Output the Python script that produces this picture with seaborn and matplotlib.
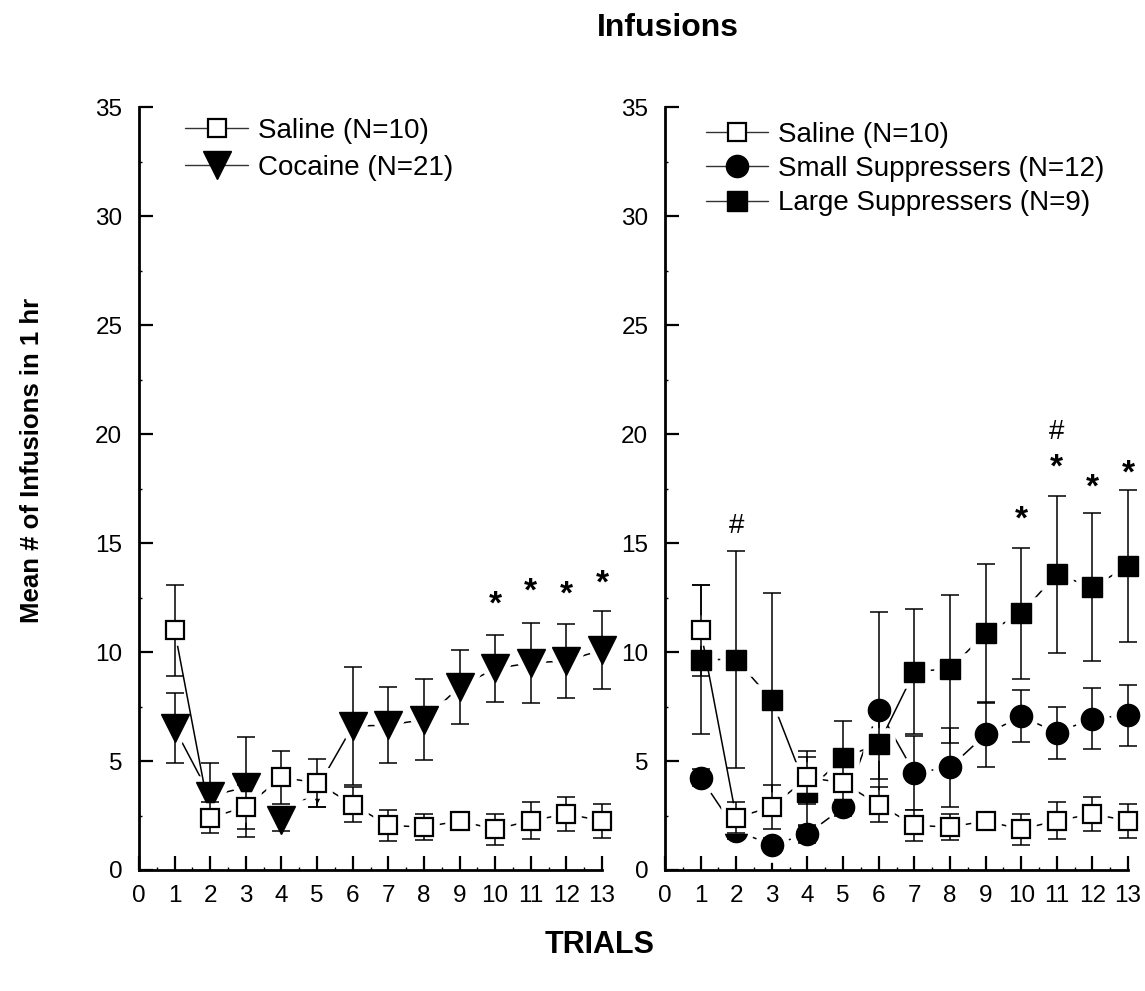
import numpy as np
import pandas as pd
import matplotlib
matplotlib.use("Agg")
import matplotlib.pyplot as plt
from matplotlib.lines import Line2D
from matplotlib.ticker import MultipleLocator
import seaborn as sns

# ---------------- data ----------------
trials = list(range(1, 14))

saline_mean = [11.0, 2.4, 2.9, 4.25, 4.0, 3.0, 2.05, 1.97, 2.25, 1.87, 2.26, 2.57, 2.26]
saline_sem = [2.1, 0.7, 1.0, 1.2, 1.1, 0.8, 0.7, 0.6, 0.4, 0.7, 0.86, 0.8, 0.78]

cocaine_mean = [6.5, 3.4, 3.8, 2.3, 3.75, 6.6, 6.65, 6.9, 8.4, 9.25, 9.5, 9.6, 10.1]
cocaine_sem = [1.6, 1.5, 2.3, 0.5, 0.85, 2.7, 1.75, 1.85, 1.7, 1.55, 1.85, 1.7, 1.8]

small_mean = [4.24, 1.8, 1.15, 1.65, 2.87, 7.36, 4.46, 4.71, 6.22, 7.06, 6.3, 6.95, 7.11]
small_sem = [0.4, 0.4, 0.3, 0.4, 0.4, 4.5, 1.7, 1.8, 1.5, 1.2, 1.2, 1.4, 1.4]

large_mean = [9.66, 9.66, 7.8, 3.6, 5.16, 5.78, 9.1, 9.24, 10.86, 11.78, 13.58, 12.97, 13.96]
large_sem = [3.4, 5.0, 4.9, 1.6, 1.7, 1.6, 2.86, 3.4, 3.18, 3.0, 3.6, 3.4, 3.5]

left_labels = ["Saline (N=10)", "Cocaine (N=21)"]
right_labels = ["Saline (N=10)", "Small Suppressers (N=12)", "Large Suppressers (N=9)"]

# significance marks: (trial, y-centre, symbol)
left_marks = [(10, 12.3, "*"), (11, 12.9, "*"), (12, 12.8, "*"), (13, 13.3, "*")]
right_marks = [(2, 15.8, "#"), (10, 16.2, "*"), (11, 18.6, "*"), (11, 20.1, "#"),
               (12, 17.7, "*"), (13, 18.35, "*")]

x_ticks = list(range(0, 14))
y_ticks = list(range(0, 40, 5))

# ---------------- style ----------------
sns.set_style("ticks")
plt.rcParams["font.family"] = ["Liberation Sans", "DejaVu Sans"]
for key in ("text.color", "axes.labelcolor", "xtick.color", "ytick.color", "axes.edgecolor"):
    plt.rcParams[key] = "black"

fig = plt.figure(figsize=(11.45, 9.91), dpi=100)
ax_l = fig.add_axes([0.1214, 0.1221, 0.4044, 0.7696])
ax_r = fig.add_axes([0.5808, 0.1221, 0.4044, 0.7696])

series_styles = {
    "saline": dict(marker="s", ms=13.5, mfc="white", mec="black", mew=1.6),
    "cocaine": dict(marker="v", ms=19.5, mfc="black", mec="black", mew=1.0),
    "small": dict(marker="o", ms=16, mfc="black", mec="black", mew=1.0),
    "large": dict(marker="s", ms=14.5, mfc="black", mec="black", mew=1.0),
}


def draw_series(ax, mean, sem, style, z):
    df = pd.DataFrame({"trial": trials, "mean": mean})
    # connecting line
    sns.lineplot(data=df, x="trial", y="mean", ax=ax, color="black", lw=1.1,
                 zorder=z, clip_on=False, legend=False)
    # white halo to create gaps around markers
    ax.plot(trials, mean, linestyle="none", marker=style["marker"], ms=style["ms"],
            mfc="white", mec="white", mew=9, zorder=z + 0.1, clip_on=False)
    # error bars
    ax.errorbar(trials, mean, yerr=sem, fmt="none", ecolor="black", elinewidth=1.1,
                capsize=6.5, capthick=1.1, zorder=z + 0.2, clip_on=False)
    # markers
    ax.plot(trials, mean, linestyle="none", zorder=z + 0.3, clip_on=False, **style)


draw_series(ax_l, cocaine_mean, cocaine_sem, series_styles["cocaine"], 2)
draw_series(ax_l, saline_mean, saline_sem, series_styles["saline"], 3)

draw_series(ax_r, small_mean, small_sem, series_styles["small"], 2)
draw_series(ax_r, large_mean, large_sem, series_styles["large"], 3)
draw_series(ax_r, saline_mean, saline_sem, series_styles["saline"], 4)


def mark(ax, marks):
    for t, yc, sym in marks:
        if sym == "*":
            ax.text(t, yc, sym, ha="center", va="center_baseline", fontsize=24,
                    fontweight="bold", zorder=10)
        else:
            ax.text(t, yc, sym, ha="center", va="center", fontsize=20, zorder=10)


mark(ax_l, left_marks)
mark(ax_r, right_marks)

for ax in (ax_l, ax_r):
    ax.set_xlim(0, 13)
    ax.set_ylim(0, 35)
    ax.set_xticks(x_ticks)
    ax.set_yticks(y_ticks)
    ax.xaxis.set_minor_locator(MultipleLocator(0.5))
    ax.yaxis.set_minor_locator(MultipleLocator(2.5))
    ax.tick_params(which="major", direction="in", length=10, width=1.6,
                   labelsize=17.5, color="black", labelcolor="black")
    ax.tick_params(axis="y", which="major", pad=12)
    ax.tick_params(axis="x", which="major", pad=11)
    ax.tick_params(which="minor", direction="in", length=2.5, width=1.0)
    for side in ("top", "right"):
        ax.spines[side].set_visible(False)
    for side in ("left", "bottom"):
        ax.spines[side].set_linewidth(2.0)
        ax.spines[side].set_color("black")
    ax.set_xlabel("")
    ax.set_ylabel("")


def legend_handle(style):
    return Line2D([0], [0], color="#333333", lw=1.0, **style)


ax_l.legend([legend_handle(series_styles["saline"]), legend_handle(series_styles["cocaine"])],
            left_labels, loc="upper left", bbox_to_anchor=(0.100, 0.986), frameon=False,
            fontsize=20, handlelength=2.25, handletextpad=0.35, labelspacing=0.38,
            borderpad=0, borderaxespad=0)
ax_r.legend([legend_handle(series_styles["saline"]), legend_handle(series_styles["small"]),
             legend_handle(series_styles["large"])],
            right_labels, loc="upper left", bbox_to_anchor=(0.088, 0.981), frameon=False,
            fontsize=20, handlelength=2.25, handletextpad=0.35, labelspacing=0.3,
            borderpad=0, borderaxespad=0)

fig.text(0.583, 0.972, "Infusions", ha="center", va="center", fontsize=23, fontweight="bold")
fig.text(0.524, 0.046, "TRIALS", ha="center", va="center", fontsize=22, fontweight="bold")
fig.text(0.028, 0.535, "Mean # of Infusions in 1 hr", ha="center", va="center",
         rotation=90, fontsize=18.5, fontweight="bold")

fig.savefig("out.png", dpi=100, facecolor="white")
